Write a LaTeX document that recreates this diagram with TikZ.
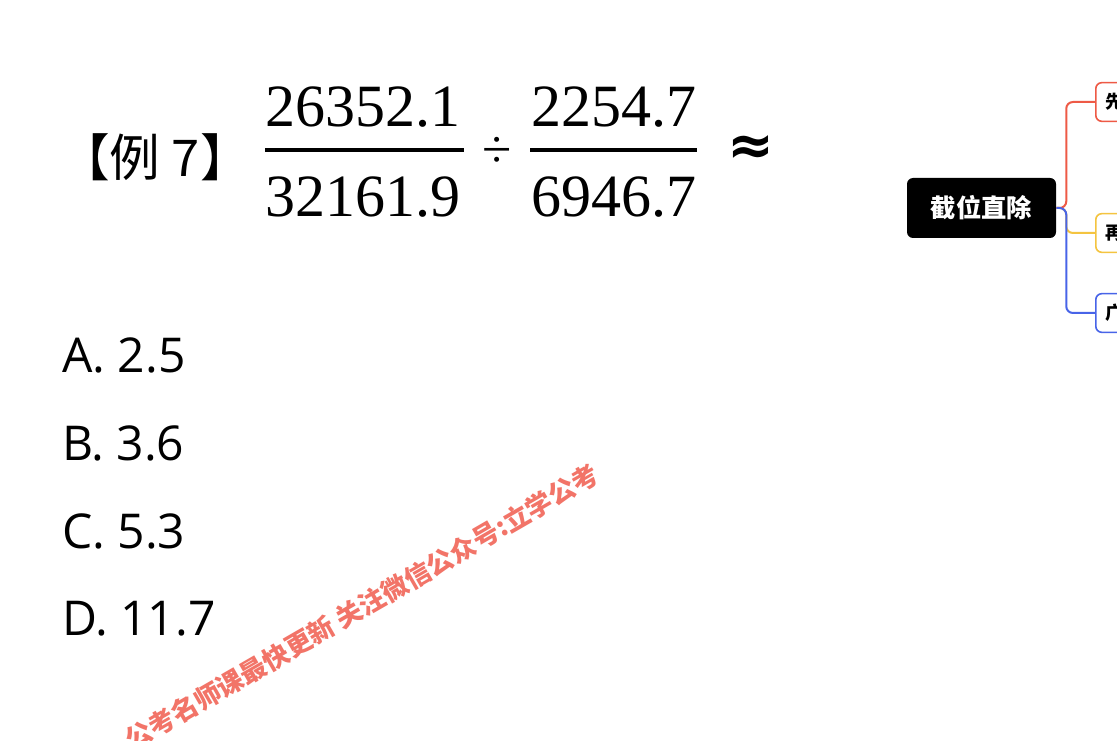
\documentclass[tikz,border=0pt]{standalone}
\usepackage{fontspec}
\setmainfont{Liberation Serif}
\newfontfamily\cjk{Noto Sans CJK SC}
\newfontfamily\optfont{Open Sans}
\newfontfamily\symfont{DejaVu Sans}
\usetikzlibrary{positioning}

\definecolor{wmred}{RGB}{242,116,104}
\definecolor{mapred}{RGB}{238,90,70}
\definecolor{mapyellow}{RGB}{244,196,64}
\definecolor{mapblue}{RGB}{72,100,232}

\tikzset{
	num/.style={inner sep=0pt, font=\fontsize{45}{45}\selectfont},
	fracbar/.style={line width=3.6pt},
	opt/.style={anchor=west, inner sep=0pt, font=\optfont\fontsize{36}{36}\selectfont},
	rootbox/.style={fill=black, text=white, rounded corners=4.5pt, minimum width=111.75pt,
		minimum height=45pt, font=\cjk\bfseries\fontsize{19}{19}\selectfont},
	leaf/.style={draw=#1, fill=white, line width=1.2pt, rounded corners=4.5pt, anchor=west,
		minimum width=60pt, minimum height=29pt, text width=45pt, inner sep=6pt,
		font=\cjk\bfseries\fontsize{13.5}{13.5}\selectfont},
	link/.style={draw=#1, line width=1.5pt, rounded corners=5pt}
}

\begin{document}
\begin{tikzpicture}[x=0.75pt, y=-0.75pt]
		\useasboundingbox[fill=white] (0,0) rectangle (1117,741);
		% Draw the question
		\node[inner sep=0pt, font=\cjk\fontsize{38}{38}\selectfont] (ex) at (155,157) {【例 7】};
		\node[num] (n1) at (363,107) {26352.1};
		\node[num] (d1) at (363,197) {32161.9};
		\draw[fracbar] (265,150) -- (464,150);
		\node[inner sep=0pt, font=\fontsize{40}{40}\selectfont] (div) at (497,152) {÷};
		\node[num] (n2) at (614,107) {2254.7};
		\node[num] (d2) at (614,197) {6946.7};
		\draw[fracbar] (530,150) -- (697,150);
		\node[inner sep=0pt, font=\symfont\bfseries\fontsize{42}{42}\selectfont] (apx) at (751,150) {≈};
		% Draw the choices
		\foreach \i/\itext in {0/A. 2.5, 1/B. 3.6, 2/C. 5.3, 3/D. 11.7}
			\node[opt] (opt\i) at (62,355+88*\i) {\itext};

		% Mind map on the right
		\node[rootbox] (root) at (981.5,208) {截位直除};
		\node[leaf=mapred] (c1) at (1095,102) {先};
		\node[leaf=mapyellow] (c2) at (1095,233) {再};
		\node[leaf=mapblue] (c3) at (1095,313) {广};
		\draw[link=mapyellow] (root.east) -- ++(10,0) |- (c2.west);
		\draw[link=mapred] (root.east) -- ++(10,0) |- (c1.west);
		\draw[link=mapblue] (root.east) -- ++(10,0) |- (c3.west);

		% Watermark
		\node[rotate=30, inner sep=0pt, text=wmred, font=\cjk\bfseries\fontsize{19.7}{19.7}\selectfont] (wm) at (362,607)
			{公考名师课最快更新 关注微信公众号:立学公考};
	\end{tikzpicture}
\end{document}
